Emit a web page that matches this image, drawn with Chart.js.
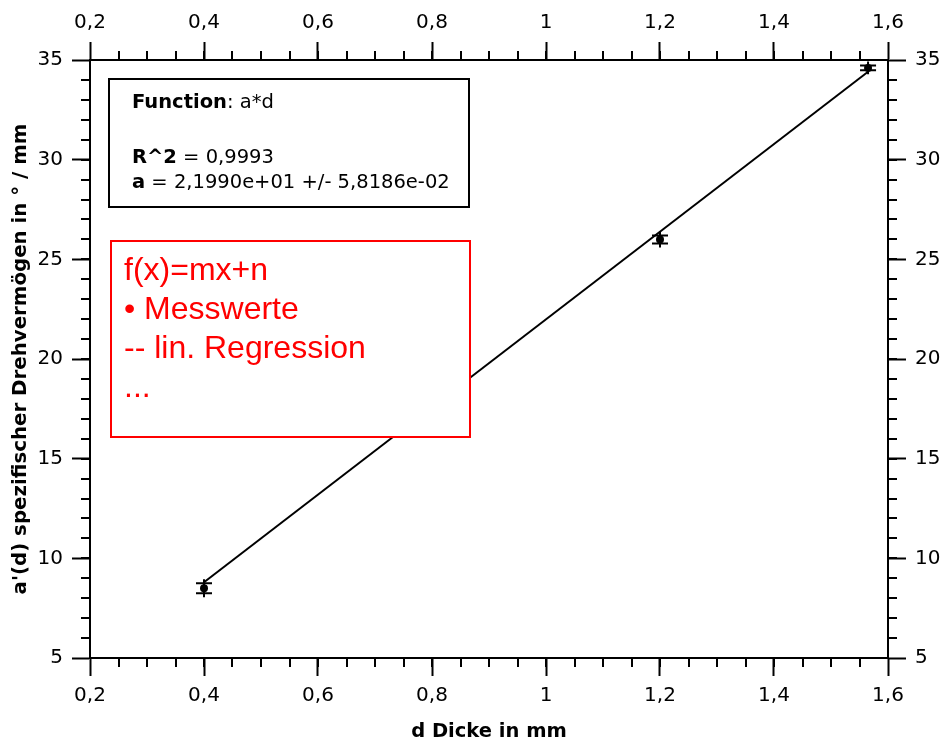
<!DOCTYPE html>
<html><head><meta charset="utf-8">
<script src="https://cdn.jsdelivr.net/npm/chart.js@4"></script>
<style>html,body{margin:0;padding:0;background:#fff;}</style>
</head><body>
<canvas id="c" width="944" height="745"></canvas>
<script>
// ---- data ----
const dickeMM = [0.4, 1.2, 1.565];          // d in mm
const drehvermoegen = [8.5, 26.0, 34.6];    // a'(d) in °/mm
const fehler = [0.25, 0.2, 0.12];           // error bars
const fitD = [0.4, 1.565];                  // regression line ends
const fitWerte = [8.80, 34.41];
const xTickValues = [0.2, 0.4, 0.6, 0.8, 1.0, 1.2, 1.4, 1.6];
const yTickValues = [5, 10, 15, 20, 25, 30, 35];
const xMinorStep = 0.05;
const yMinorStep = 1;
const infoLines = [
  [['Function', true], [': a*d', false]],
  [],
  [['R^2', true], [' = 0,9993', false]],
  [['a', true], [' = 2,1990e+01 +/- 5,8186e-02', false]]
];
const legendLines = ['f(x)=mx+n', '\u2022 Messwerte', '-- lin. Regression', '...'];
const xTitle = 'd Dicke in mm';
const yTitle = "a'(d) spezifischer Drehverm\u00f6gen in \u00b0 / mm";

const FONT = 'DejaVu Sans';
const fmt = v => String(Math.round(v * 100) / 100).replace('.', ',');

function axisCfg(pos, isX) {
  const vals = isX ? xTickValues : yTickValues;
  const cfg = {
    type: 'linear', position: pos,
    min: vals[0], max: vals[vals.length - 1],
    afterBuildTicks: s => { s.ticks = vals.map(v => ({ value: v })); },
    ticks: {
      callback: v => fmt(v), color: '#000', maxRotation: 0, autoSkip: false,
      font: { family: FONT, size: 20 },
      padding: pos === 'bottom' ? 8 : pos === 'top' ? 7 : 9
    },
    grid: { drawOnChartArea: false, drawTicks: true, tickLength: 18, tickWidth: 2, tickColor: '#000', color: '#000' },
    border: { display: true, color: '#000', width: 2 },
    afterFit: s => {
      if (pos === 'left') s.width = 90;
      if (pos === 'right') s.width = 56;
      if (pos === 'top') s.height = 60;
      if (pos === 'bottom') s.height = 87;
    }
  };
  if (pos === 'bottom') cfg.title = { display: true, text: xTitle, color: '#000', font: { family: FONT, size: 19.5, weight: 'bold' }, padding: { top: 0, bottom: 1 } };
  if (pos === 'left') cfg.title = { display: true, text: yTitle, color: '#000', font: { family: FONT, size: 19.8, weight: 'bold' }, padding: { top: 9, bottom: 0 } };
  return cfg;
}

const minorTicks = {
  id: 'minorTicks',
  afterDraw(chart) {
    const ctx = chart.ctx;
    ctx.save();
    ctx.strokeStyle = '#000'; ctx.lineWidth = 2;
    const len = 9;
    for (const id of ['x', 'x2', 'y', 'y2']) {
      const s = chart.scales[id];
      const isX = id[0] === 'x';
      const step = isX ? xMinorStep : yMinorStep;
      const n = Math.round((s.max - s.min) / step);
      for (let i = 1; i < n; i++) {
        const v = s.min + i * step;
        const p = Math.round(s.getPixelForValue(v));
        ctx.beginPath();
        if (s.position === 'bottom') { ctx.moveTo(p, s.top); ctx.lineTo(p, s.top + len); }
        if (s.position === 'top') { ctx.moveTo(p, s.bottom); ctx.lineTo(p, s.bottom - len); }
        if (s.position === 'left') { ctx.moveTo(s.right, p); ctx.lineTo(s.right - len, p); }
        if (s.position === 'right') { ctx.moveTo(s.left, p); ctx.lineTo(s.left + len, p); }
        ctx.stroke();
      }
    }
    ctx.restore();
  }
};

const errorBars = {
  id: 'errorBars',
  afterDatasetsDraw(chart) {
    const ctx = chart.ctx, xs = chart.scales.x, ys = chart.scales.y;
    ctx.save();
    ctx.strokeStyle = '#000'; ctx.lineWidth = 2;
    dickeMM.forEach((d, i) => {
      const px = xs.getPixelForValue(d);
      const top = ys.getPixelForValue(drehvermoegen[i] + fehler[i]);
      const bot = ys.getPixelForValue(drehvermoegen[i] - fehler[i]);
      ctx.beginPath();
      ctx.moveTo(px, top - 4); ctx.lineTo(px, bot + 4);
      ctx.moveTo(px - 8, top); ctx.lineTo(px + 8, top);
      ctx.moveTo(px - 8, bot); ctx.lineTo(px + 8, bot);
      ctx.stroke();
    });
    ctx.restore();
  }
};

const boxes = {
  id: 'boxes',
  afterDatasetsDraw(chart) {
    const ctx = chart.ctx, a = chart.chartArea;
    ctx.save();
    // info box
    const bx = a.left + 19, by = a.top + 19, bw = 360, bh = 128;
    ctx.fillStyle = '#fff'; ctx.fillRect(bx, by, bw, bh);
    ctx.strokeStyle = '#000'; ctx.lineWidth = 2; ctx.strokeRect(bx, by, bw, bh);
    ctx.fillStyle = '#000'; ctx.textBaseline = 'middle'; ctx.textAlign = 'left';
    const lineY = [24, 0, 79, 104];
    infoLines.forEach((segs, i) => {
      let x = bx + 23;
      segs.forEach(([t, b]) => {
        ctx.font = (b ? 'bold ' : '') + '19.5px "' + FONT + '"';
        ctx.fillText(t, x, by + lineY[i]);
        x += ctx.measureText(t).width;
      });
    });
    // red legend box
    const rx = a.left + 21, ry = a.top + 181, rw = 359, rh = 196;
    ctx.fillStyle = '#fff'; ctx.fillRect(rx, ry, rw, rh);
    ctx.strokeStyle = '#ff0000'; ctx.lineWidth = 2; ctx.strokeRect(rx, ry, rw, rh);
    ctx.fillStyle = '#ff0000';
    ctx.font = '32px "Liberation Sans"';
    legendLines.forEach((t, i) => {
      ctx.fillText(t, rx + 13, ry + 30 + i * 39);
    });
    ctx.restore();
  }
};

new Chart(document.getElementById('c'), {
  type: 'scatter',
  data: {
    datasets: [
      {
        label: 'Regression', type: 'line',
        data: fitD.map((d, i) => ({ x: d, y: fitWerte[i] })),
        borderColor: '#000', borderWidth: 2, pointRadius: 0, fill: false, tension: 0,
        xAxisID: 'x', yAxisID: 'y'
      },
      {
        label: 'Messwerte',
        data: dickeMM.map((d, i) => ({ x: d, y: drehvermoegen[i] })),
        backgroundColor: '#000', borderColor: '#000', pointRadius: 4, pointBorderWidth: 0,
        xAxisID: 'x', yAxisID: 'y'
      }
    ]
  },
  options: {
    responsive: false, animation: false, devicePixelRatio: 1,
    layout: { padding: 0 },
    plugins: { legend: { display: false }, tooltip: { enabled: false } },
    scales: {
      x: axisCfg('bottom', true),
      x2: axisCfg('top', true),
      y: axisCfg('left', false),
      y2: axisCfg('right', false)
    }
  },
  plugins: [minorTicks, errorBars, boxes]
});
</script>
</body></html>
